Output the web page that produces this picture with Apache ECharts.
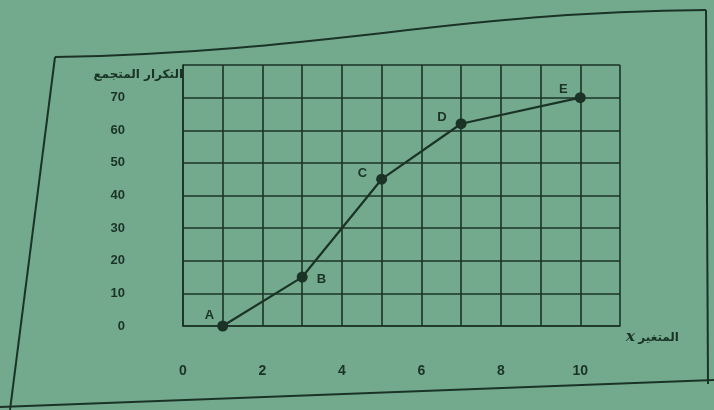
<!DOCTYPE html>
<html>
<head>
<meta charset="utf-8">
<script src="https://cdn.jsdelivr.net/npm/echarts@6/dist/echarts.min.js"></script>
<style>
  html, body { margin: 0; padding: 0; background: #73aa8e; }
  #chart { width: 714px; height: 410px; }
</style>
</head>
<body>
<div id="chart"></div>
<script>
// data
const xValues = [1, 3, 5, 7, 10];
const cumFreq = [0, 15, 45, 62, 70];
const pointNames = ['A', 'B', 'C', 'D', 'E'];
const xLabels = [0, 2, 4, 6, 8, 10];
const yLabels = [0, 10, 20, 30, 40, 50, 60, 70];

const ink = '#1b3326';

// where each letter sits beside its point
const labelSpots = [
  { position: 'left', offset: [2, -11] },
  { position: 'right', offset: [4, 2] },
  { position: 'left', offset: [-4, -6] },
  { position: 'left', offset: [-4, -6] },
  { position: 'left', offset: [-2, -8] }
];

const chart = echarts.init(document.getElementById('chart'));

const option = {
  backgroundColor: '#73aa8e',
  animation: false,
  grid: { left: 183, right: 94, top: 65, bottom: 84 },
  xAxis: {
    type: 'value',
    min: 0,
    max: 11,
    interval: 1,
    name: '{x|x} {a|المتغير}',
    nameLocation: 'end',
    nameGap: 6,
    nameTextStyle: {
      align: 'left',
      verticalAlign: 'top',
      padding: [4, 0, 0, 0],
      rich: {
        x: { fontFamily: 'DejaVu Serif', fontStyle: 'italic', fontWeight: 'bold', fontSize: 15, color: ink },
        a: { fontFamily: 'DejaVu Sans', fontWeight: 'bold', fontSize: 12, color: ink }
      }
    },
    axisLine: { show: true, lineStyle: { color: ink, width: 1.6 } },
    axisTick: { show: false },
    splitLine: { show: true, lineStyle: { color: ink, width: 1.6 } },
    axisLabel: {
      margin: 38,
      fontFamily: 'Liberation Sans',
      fontWeight: 'bold',
      fontSize: 14,
      color: ink,
      formatter: v => (xLabels.includes(v) ? String(v) : '')
    }
  },
  yAxis: {
    type: 'value',
    min: 0,
    max: 80,
    interval: 10,
    name: 'التكرار المتجمع',
    nameLocation: 'end',
    nameGap: -10,
    nameTextStyle: {
      align: 'right',
      verticalAlign: 'middle',
      padding: [0, 0, 0, 0],
      fontFamily: 'DejaVu Sans',
      fontWeight: 'bold',
      fontSize: 12,
      color: ink
    },
    axisLine: { show: true, lineStyle: { color: ink, width: 1.6 } },
    axisTick: { show: false },
    splitLine: { show: true, lineStyle: { color: ink, width: 1.6 } },
    axisLabel: {
      margin: 58,
      fontFamily: 'Liberation Sans',
      fontWeight: 'bold',
      fontSize: 13,
      color: ink,
      formatter: v => (yLabels.includes(v) ? String(v) : '')
    }
  },
  series: [
    {
      type: 'line',
      data: xValues.map((x, i) => ({
        value: [x, cumFreq[i]],
        name: pointNames[i],
        label: labelSpots[i]
      })),
      symbol: 'circle',
      symbolSize: 11,
      lineStyle: { color: ink, width: 2.2 },
      itemStyle: { color: ink },
      label: {
        show: true,
        formatter: p => p.name,
        fontFamily: 'Liberation Sans',
        fontWeight: 'bold',
        fontSize: 13,
        color: ink
      },
      z: 5
    }
  ],
  graphic: [
    {
      type: 'line',
      shape: { x1: 55, y1: 57, x2: 10, y2: 410 },
      style: { stroke: ink, lineWidth: 2 },
      silent: true
    },
    {
      type: 'bezierCurve',
      shape: { x1: 55, y1: 57, cpx1: 330, cpy1: 52, cpx2: 450, cpy2: 12, x2: 706, y2: 10 },
      style: { stroke: ink, lineWidth: 2, fill: null },
      silent: true
    },
    {
      type: 'line',
      shape: { x1: 706, y1: 10, x2: 708, y2: 384 },
      style: { stroke: ink, lineWidth: 2 },
      silent: true
    },
    {
      type: 'line',
      shape: { x1: 0, y1: 407, x2: 714, y2: 380 },
      style: { stroke: ink, lineWidth: 2 },
      silent: true
    }
  ]
};

chart.setOption(option);
</script>
</body>
</html>
